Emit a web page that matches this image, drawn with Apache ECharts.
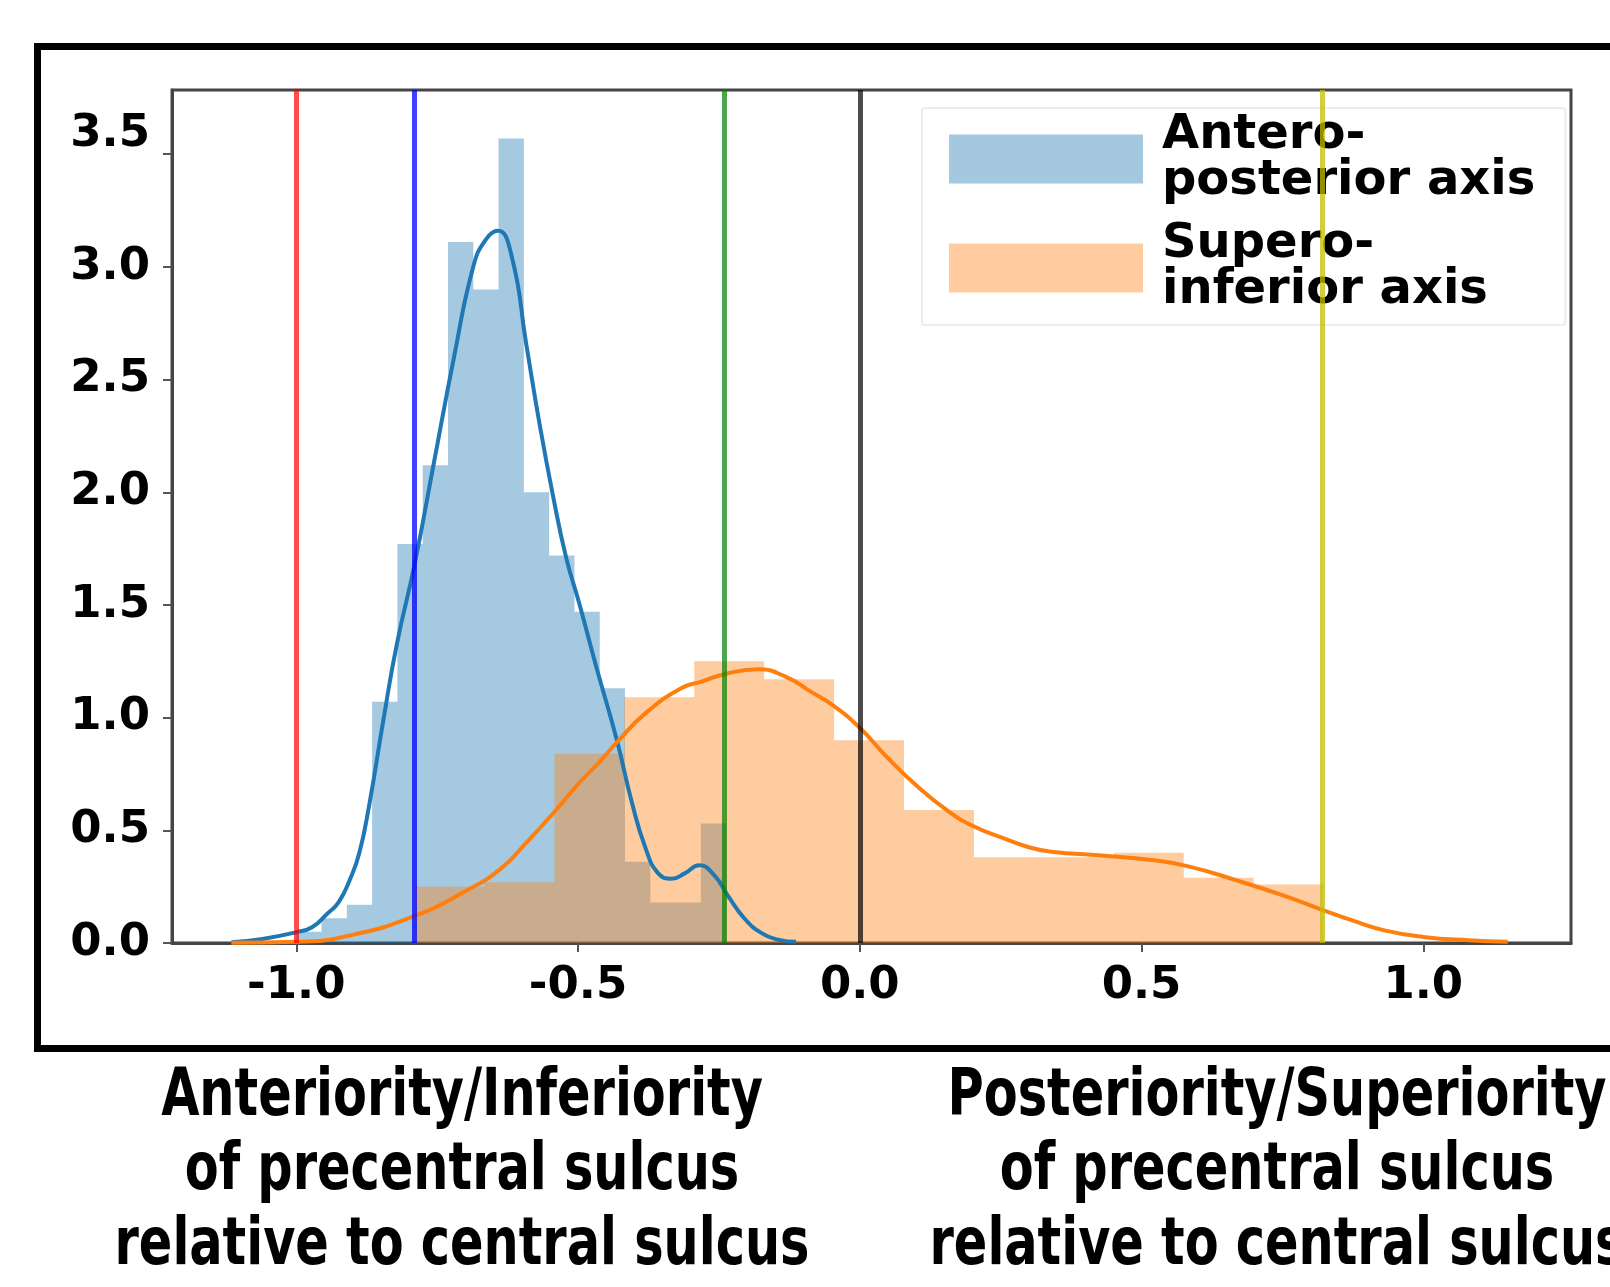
<!DOCTYPE html>
<html>
<head>
<meta charset="utf-8">
<title>Precentral vs central sulcus</title>
<script src="https://cdn.jsdelivr.net/npm/echarts@6/dist/echarts.min.js"></script>
<style>
  html, body { margin: 0; padding: 0; background: #fff; }
  #chart { width: 1610px; height: 1287px; }
</style>
</head>
<body>
<div id="chart"></div>
<script>
// histogram bins (density)
const apEdges = [-1.0, -0.9551, -0.9102, -0.8654, -0.8205, -0.7756, -0.7307, -0.6858, -0.641,
  -0.5961, -0.5512, -0.5063, -0.4614, -0.4166, -0.3717, -0.3268, -0.2819, -0.237]
const apDensity = [0.05, 0.11, 0.17, 1.07, 1.77, 2.12, 3.11, 2.90, 3.57,
  2.00, 1.72, 1.47, 1.13, 0.36, 0.18, 0.18, 0.53]

const siEdges = [-0.79, -0.6659, -0.5418, -0.4178, -0.2937, -0.1696, -0.0455,
  0.0786, 0.2026, 0.3267, 0.4508, 0.5749, 0.699, 0.823]
const siDensity = [0.25, 0.27, 0.84, 1.09, 1.25, 1.17, 0.90, 0.59, 0.38, 0.38, 0.40, 0.29, 0.26]

// kde curves [x, density]
const apKde = [[-1.115, 0.003], [-1.06, 0.018], [-1.0, 0.048], [-0.972, 0.07], [-0.945, 0.13],
  [-0.925, 0.18], [-0.905, 0.28], [-0.888, 0.40], [-0.87, 0.62], [-0.846, 0.98], [-0.822, 1.32],
  [-0.79, 1.68], [-0.755, 2.14], [-0.72, 2.6], [-0.686, 3.0], [-0.664, 3.12], [-0.642, 3.16],
  [-0.617, 3.04], [-0.592, 2.66], [-0.568, 2.3], [-0.544, 1.98], [-0.521, 1.71], [-0.497, 1.5],
  [-0.467, 1.22], [-0.431, 0.9], [-0.404, 0.62], [-0.38, 0.42], [-0.358, 0.31], [-0.334, 0.285],
  [-0.31, 0.31], [-0.285, 0.345], [-0.258, 0.3], [-0.234, 0.21], [-0.205, 0.11], [-0.175, 0.045],
  [-0.145, 0.015], [-0.113, 0.005]]

const siKde = [[-1.115, 0.001], [-1.0, 0.005], [-0.904, 0.034], [-0.79, 0.12], [-0.696, 0.235],
  [-0.637, 0.33], [-0.59, 0.45], [-0.546, 0.57], [-0.498, 0.71], [-0.463, 0.80], [-0.431, 0.89],
  [-0.38, 1.02], [-0.317, 1.13], [-0.281, 1.16], [-0.237, 1.195], [-0.181, 1.215], [-0.13, 1.18],
  [-0.09, 1.12], [-0.045, 1.05], [0.0, 0.955], [0.05, 0.82], [0.1, 0.70], [0.157, 0.585],
  [0.2, 0.52], [0.25, 0.47], [0.3, 0.425], [0.34, 0.405], [0.43, 0.388], [0.518, 0.368],
  [0.583, 0.34], [0.666, 0.28], [0.755, 0.208], [0.823, 0.145], [0.874, 0.1], [0.933, 0.055],
  [1.0, 0.027], [1.08, 0.012], [1.15, 0.006]]

// vertical reference lines (red, blue, green, black, yellow)
const refLines = [-1.0, -0.79, -0.237, 0.0, 0.823]

const xTicks = [-1.0, -0.5, 0.0, 0.5, 1.0]
const yTicks = [0, 0.5, 1.0, 1.5, 2.0, 2.5, 3.0, 3.5]

const seriesNames = ['Antero-posterior axis', 'Supero-inferior axis']
const legendLabels = ['Antero-\nposterior axis', 'Supero-\ninferior axis']
const leftCaption = ['Anteriority/Inferiority', 'of precentral sulcus', 'relative to central sulcus']
const rightCaption = ['Posteriority/Superiority', 'of precentral sulcus', 'relative to central sulcus']

// step outline of a histogram: one point per bin plus the closing edge
function stepPoints(edges, heights){
  const pts = heights.map((h, i) => [edges[i], h])
  pts.push([edges[edges.length - 1], heights[heights.length - 1]])
  return pts
}

const refColors = ['rgba(255,0,0,0.7)', 'rgba(0,0,255,0.75)', 'rgba(0,128,0,0.7)', 'rgba(0,0,0,0.7)', 'rgba(191,191,0,0.75)']

const tickFont = {
  fontSize: 45,
  fontWeight: 'bold',
  fontFamily: 'DejaVu Sans',
  color: '#000'
}

// caption text is a condensed face; stretch it to the width seen in the figure
const captionFont = 'bold 66px "Liberation Sans Narrow", "DejaVu Sans Condensed", "Noto Sans", sans-serif'
const ctx = document.createElement('canvas').getContext('2d')
ctx.font = captionFont
const captionScale = 695 / ctx.measureText(leftCaption[2]).width

var myChart = echarts.init(document.getElementById('chart'), null, { renderer: 'canvas' })

const option = {
  animation: false,
  backgroundColor: '#fff',
  grid: {
    left: 172,
    top: 90,
    width: 1399,
    height: 853,
    show: true,
    borderColor: '#454545',
    borderWidth: 3,
    backgroundColor: 'transparent'
  },
  legend: {
    orient: 'vertical',
    left: 922,
    top: 108,
    padding: [4, 30, 10, 27],
    itemWidth: 194,
    itemHeight: 49,
    itemGap: 15,
    icon: 'rect',
    selectedMode: false,
    borderColor: '#ececec',
    borderWidth: 2,
    borderRadius: 3,
    formatter(name){
      return legendLabels[seriesNames.indexOf(name)]
    },
    textStyle: {
      fontSize: 48,
      lineHeight: 46,
      fontWeight: 'bold',
      fontFamily: 'DejaVu Sans',
      color: '#000',
      padding: [0, 0, 0, 14]
    },
    data: [
      { name: seriesNames[0], itemStyle: { color: '#a5c8e1', opacity: 1, borderWidth: 0 } },
      { name: seriesNames[1], itemStyle: { color: '#ffcb9f', opacity: 1, borderWidth: 0 } }
    ]
  },
  xAxis: {
    type: 'value',
    min: -1.2205,
    max: 1.2622,
    splitLine: { show: false },
    axisLine: { show: true, onZero: false, lineStyle: { color: '#454545', width: 3 } },
    axisTick: { show: true, customValues: xTicks, length: 9, lineStyle: { color: '#555', width: 2 } },
    axisLabel: {
      ...tickFont,
      customValues: xTicks,
      margin: 21,
      formatter(v){
        return v.toFixed(1)
      }
    }
  },
  yAxis: {
    type: 'value',
    min: 0,
    max: 3.785,
    splitLine: { show: false },
    axisLine: { show: true, onZero: false, lineStyle: { color: '#454545', width: 3 } },
    axisTick: { show: true, customValues: yTicks, length: 9, lineStyle: { color: '#555', width: 2 } },
    axisLabel: {
      ...tickFont,
      customValues: yTicks,
      margin: 22,
      formatter(v){
        // the top label sits a bit above its tick in the original
        return v === 3.5 ? '{hi|3.5}' : v.toFixed(1)
      },
      rich: {
        hi: { ...tickFont, padding: [0, 0, 40, 0] }
      }
    }
  },
  series: [
    {
      name: seriesNames[0],
      type: 'line',
      step: 'end',
      symbol: 'none',
      silent: true,
      itemStyle: { color: '#a5c8e1' },
      lineStyle: { width: 0, opacity: 0 },
      areaStyle: { color: '#1f77b4', opacity: 0.4 },
      data: stepPoints(apEdges, apDensity)
    },
    {
      name: 'ap-kde',
      type: 'line',
      smooth: 0.5,
      symbol: 'none',
      silent: true,
      lineStyle: { color: '#1f77b4', width: 4 },
      data: apKde
    },
    {
      name: seriesNames[1],
      type: 'line',
      step: 'end',
      symbol: 'none',
      silent: true,
      itemStyle: { color: '#ffcb9f' },
      lineStyle: { width: 0, opacity: 0 },
      areaStyle: { color: '#ff7f0e', opacity: 0.4 },
      data: stepPoints(siEdges, siDensity)
    },
    {
      name: 'si-kde',
      type: 'line',
      smooth: 0.5,
      symbol: 'none',
      silent: true,
      lineStyle: { color: '#ff7f0e', width: 4 },
      data: siKde
    },
    {
      name: 'ref-lines',
      type: 'line',
      data: [],
      silent: true,
      markLine: {
        symbol: 'none',
        silent: true,
        label: { show: false },
        emphasis: { disabled: true },
        data: refLines.map((v, i) => ({
          xAxis: v,
          lineStyle: { color: refColors[i], width: 5, type: 'solid' }
        }))
      }
    }
  ],
  graphic: [
    {
      type: 'rect',
      silent: true,
      shape: { x: 37.5, y: 46.5, width: 1620, height: 1002 },
      style: { fill: 'none', stroke: '#000', lineWidth: 7 }
    },
    {
      type: 'text',
      silent: true,
      x: 462,
      y: 1172,
      scaleX: captionScale,
      style: {
        text: leftCaption.join('\n'),
        font: captionFont,
        lineHeight: 74.5,
        fill: '#000',
        align: 'center',
        verticalAlign: 'middle',
        textAlign: 'center',
        textVerticalAlign: 'middle'
      }
    },
    {
      type: 'text',
      silent: true,
      x: 1277,
      y: 1172,
      scaleX: captionScale,
      style: {
        text: rightCaption.join('\n'),
        font: captionFont,
        lineHeight: 74.5,
        fill: '#000',
        align: 'center',
        verticalAlign: 'middle',
        textAlign: 'center',
        textVerticalAlign: 'middle'
      }
    }
  ]
}

myChart.setOption(option)
</script>
</body>
</html>
